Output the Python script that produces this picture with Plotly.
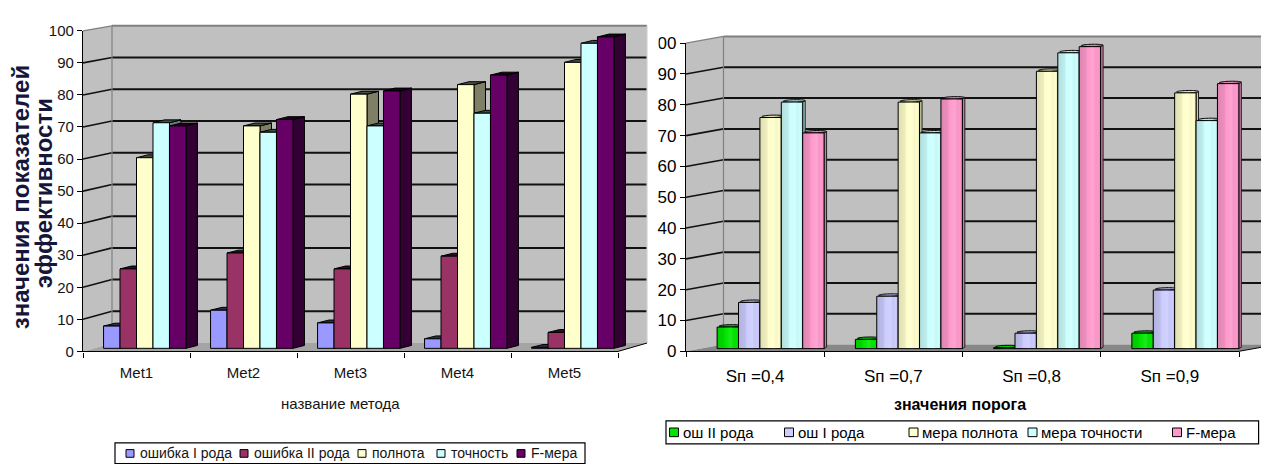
import math
import plotly.graph_objects as go

W, H = 1261, 474

# ---------------- data ----------------
methods = ["Met1", "Met2", "Met3", "Met4", "Met5"]
left_series_names = ["ошибка I рода", "ошибка II рода", "полнота", "точность", "F-мера"]
left_error_1 = [7, 12, 8, 3, 0.3]
left_error_2 = [25, 30, 25, 29, 5]
left_recall = [60, 70, 80, 83, 90]
left_precision = [71, 68, 70, 74, 96]
left_f_measure = [70, 72, 81, 86, 98]

thresholds = ["Sп =0,4", "Sп =0,7", "Sп =0,8", "Sп =0,9"]
right_series_names = ["ош II рода", "ош I рода", "мера полнота", "мера точности", "F-мера"]
right_error_2 = [7, 3, 0.3, 5]
right_error_1 = [15, 17, 5, 19]
right_recall = [75, 80, 90, 83]
right_precision = [80, 70, 96, 74]
right_f_measure = [70, 81, 98, 86]

value_ticks = [0, 10, 20, 30, 40, 50, 60, 70, 80, 90, 100]

# ---------------- styles ----------------
left_colors = ["#9999FF", "#993366", "#FFFFCC", "#CCFFFF", "#660066"]
right_colors = ["#00E600", "#CCCCFF", "#FFFFCC", "#CCFFFF", "#FF99CC"]

ARIAL = "Liberation Sans, Arial, sans-serif"
WALL = "#C0C0C0"
GRID = "#111111"
EDGE = "#808080"

CYL_SHADE = [
    [0.0, "rgba(0,0,0,0.13)"],
    [0.33, "rgba(0,0,0,0.07)"],
    [0.42, "rgba(255,255,255,0.0)"],
    [0.65, "rgba(255,255,255,0.12)"],
    [0.88, "rgba(0,0,0,0.0)"],
    [1.0, "rgba(0,0,0,0.10)"],
]


def shade(hex_color, k):
    h = hex_color.lstrip("#")
    r, g, b = (int(h[i:i + 2], 16) for i in (0, 2, 4))
    return "#%02X%02X%02X" % (int(r * k), int(g * k), int(b * k))


def pxx(x):
    return x / W


def pyy(y):
    return 1 - y / H


def paper_path(points):
    return "M " + " L ".join(f"{pxx(x):.5f},{pyy(y):.5f}" for x, y in points) + " Z"


def data_path(points, close=True):
    s = "M " + " L ".join(f"{x:.5f},{y:.5f}" for x, y in points)
    return s + (" Z" if close else "")


panels = [
    dict(
        cats=methods,
        names=left_series_names,
        series=[left_error_1, left_error_2, left_recall, left_precision, left_f_measure],
        colors=left_colors,
        bar_axes=("x", "y"),
        front_axes=("x2", "y2"),
        front=dict(x0=83, x1=618, y0=356.7, y100=22.7),
        back=dict(x0=112, x1=647, y0=348.0, y100=17.5),
        bars=dict(c0=144.75, step=107.0, y0=353.5, unit=3.31, frac=0.77),
        depth=(11.5, 3.0),
        cylinders=False,
        box=(78, 652, 6, 362),
        floor="#A4A4A4",
        tickfont=dict(family=ARIAL, size=15, color="#141414"),
        catfont=dict(family=ARIAL, size=15, color="#141414"),
        standoff=7,
    ),
    dict(
        cats=thresholds,
        names=right_series_names,
        series=[right_error_2, right_error_1, right_recall, right_precision, right_f_measure],
        colors=right_colors,
        bar_axes=("x3", "y3"),
        front_axes=("x4", "y4"),
        front=dict(x0=686, x1=1239, y0=356.6, y100=35.6),
        back=dict(x0=723.5, x1=1276.5, y0=349.6, y100=28.6),
        bars=dict(c0=770.6, step=138.25, y0=353.8, unit=3.21, frac=0.774),
        depth=(4.5, 2.5),
        cylinders=True,
        box=(682, 1261, 20, 362),
        floor="#878787",
        tickfont=dict(family=ARIAL, size=17, color="black"),
        catfont=dict(family=ARIAL, size=17, color="black"),
        standoff=9,
    ),
]

shapes, annotations, traces = [], [], []
layout_axes = {}


def axis_key(ref):
    return ("xaxis" if ref[0] == "x" else "yaxis") + ref[1:]


for p in panels:
    f, b, bp = p["front"], p["back"], p["bars"]

    def fy(v, f=f):
        return f["y0"] + (f["y100"] - f["y0"]) * v / 100

    def by(v, b=b):
        return b["y0"] + (b["y100"] - b["y0"]) * v / 100

    # walls and floor
    shapes.append(dict(type="path", xref="paper", yref="paper", layer="below",
                       path=paper_path([(f["x0"], fy(0)), (f["x0"], fy(100)),
                                        (b["x0"], by(100)), (b["x0"], by(0))]),
                       fillcolor=WALL, line=dict(width=0)))
    shapes.append(dict(type="path", xref="paper", yref="paper", layer="below",
                       path=paper_path([(b["x0"], by(0)), (b["x0"], by(100)),
                                        (b["x1"], by(100)), (b["x1"], by(0))]),
                       fillcolor=WALL, line=dict(width=0)))
    shapes.append(dict(type="path", xref="paper", yref="paper", layer="below",
                       path=paper_path([(f["x0"], fy(0)), (f["x1"], fy(0)),
                                        (b["x1"], by(0)), (b["x0"], by(0))]),
                       fillcolor=p["floor"], line=dict(width=0)))

    # grid lines on the back wall and the side wall
    for v in value_ticks[1:-1]:
        shapes.append(dict(type="line", xref="paper", yref="paper", layer="below",
                           x0=pxx(b["x0"]), y0=pyy(by(v)), x1=pxx(b["x1"]), y1=pyy(by(v)),
                           line=dict(color=GRID, width=2)))
        shapes.append(dict(type="line", xref="paper", yref="paper", layer="below",
                           x0=pxx(f["x0"]), y0=pyy(fy(v)), x1=pxx(b["x0"]), y1=pyy(by(v)),
                           line=dict(color=GRID, width=1.6)))

    # wall edges
    for (x0, y0, x1, y1, col, wd) in [
        (f["x0"], fy(100), b["x0"], by(100), EDGE, 1.2),
        (b["x0"], by(100), b["x1"], by(100), EDGE, 2.0),
        (b["x0"], by(100), b["x0"], by(0), EDGE, 1.2),
        (b["x1"], by(100), b["x1"], by(0), "#D0D0D0", 1.2),
        (f["x1"], fy(0), b["x1"], by(0), "black", 1.0),
    ]:
        shapes.append(dict(type="line", xref="paper", yref="paper", layer="below",
                           x0=pxx(x0), y0=pyy(y0), x1=pxx(x1), y1=pyy(y1),
                           line=dict(color=col, width=wd)))

    # axes of the bar plane (hidden, used for placing the columns)
    xa, ya = p["bar_axes"]
    x_lo, x_hi, y_top, y_bot = p["box"]
    layout_axes[axis_key(xa)] = dict(
        domain=[pxx(x_lo), pxx(x_hi)],
        range=[(x_lo - bp["c0"]) / bp["step"], (x_hi - bp["c0"]) / bp["step"]],
        anchor=ya, visible=False, fixedrange=True)
    layout_axes[axis_key(ya)] = dict(
        domain=[pyy(y_bot), pyy(y_top)],
        range=[(bp["y0"] - y_bot) / bp["unit"], (bp["y0"] - y_top) / bp["unit"]],
        anchor=xa, visible=False, fixedrange=True)

    # front axes carrying ticks and labels
    fxa, fya = p["front_axes"]
    n = len(p["cats"])
    layout_axes[axis_key(fxa)] = dict(
        domain=[pxx(f["x0"]), pxx(f["x1"])], range=[-0.5, n - 0.5], anchor=fya,
        tickmode="array", tickvals=list(range(n)), ticktext=p["cats"], ticks="",
        ticklabelstandoff=p["standoff"],
        minor=dict(tickmode="array", tickvals=[i - 0.5 for i in range(n + 1)],
                   ticks="outside", ticklen=5, tickcolor="black", showgrid=False),
        showline=True, linecolor="black", linewidth=1.3, showgrid=False, zeroline=False,
        tickfont=p["catfont"], fixedrange=True)
    layout_axes[axis_key(fya)] = dict(
        domain=[pyy(f["y0"]), pyy(f["y100"])], range=[0, 100], anchor=fxa,
        tickmode="array", tickvals=value_ticks, ticks="outside", ticklen=5,
        tickcolor="black", showline=True, linecolor="black", linewidth=1.2,
        showgrid=False, zeroline=False, tickfont=p["tickfont"], fixedrange=True)
    # an empty trace so the front subplot is created and its axes drawn
    traces.append(go.Scatter(x=[], y=[], xaxis=fxa, yaxis=fya, showlegend=False,
                             hoverinfo="skip"))

    # columns
    m = len(p["series"])
    bw = bp["frac"] / m
    ddx = p["depth"][0] / bp["step"]
    ddy = p["depth"][1] / bp["unit"]
    for k, (name, vals, color) in enumerate(zip(p["names"], p["series"], p["colors"])):
        traces.append(go.Bar(
            x=list(range(n)), y=vals, width=bw, offset=-bp["frac"] / 2 + k * bw,
            name=name, customdata=p["cats"],
            hovertemplate="%{customdata}<br>" + name + ": %{y}<extra></extra>",
            marker=dict(color=color, line=dict(color="black", width=1)),
            xaxis=xa, yaxis=ya, showlegend=False))

    # side and top faces, left to right so nearer faces overlap farther ones
    for j in range(n):
        for k, (vals, color) in enumerate(zip(p["series"], p["colors"])):
            L = j - bp["frac"] / 2 + k * bw
            R = L + bw
            h = vals[j]
            if not p["cylinders"]:
                shapes.append(dict(type="path", xref=xa, yref=ya, layer="below",
                                   path=data_path([(R, 0), (R + ddx, ddy), (R + ddx, h + ddy), (R, h)]),
                                   fillcolor=shade(color, 0.5), line=dict(color="black", width=1)))
                shapes.append(dict(type="path", xref=xa, yref=ya, layer="below",
                                   path=data_path([(L, h), (R, h), (R + ddx, h + ddy), (L + ddx, h + ddy)]),
                                   fillcolor=shade(color, 0.3), line=dict(color="black", width=1)))
            else:
                r = bw / 2
                c = (L + R) / 2
                ts = math.atan2(ddx / 2, r)
                xm = c + ddx / 2 + math.hypot(r, ddx / 2)
                ym = (ddy / 2) * (1 + math.sin(ts))
                shapes.append(dict(type="path", xref=xa, yref=ya, layer="below",
                                   path=data_path([(R, 0), (xm, ym), (xm, h + ym), (R, h)]),
                                   fillcolor=shade(color, 0.8), line=dict(color="#202020", width=1)))
                pts = []
                for i in range(48):
                    t = 2 * math.pi * i / 48
                    pts.append((c + r * math.cos(t) + (ddx / 2) * (1 + math.sin(t)),
                                h + (ddy / 2) * (1 + math.sin(t))))
                shapes.append(dict(type="path", xref=xa, yref=ya, layer="below",
                                   path=data_path(pts), fillcolor=shade(color, 0.88),
                                   line=dict(color="black", width=1)))
        if p["cylinders"]:
            for k, vals in enumerate(p["series"]):
                L = j - bp["frac"] / 2 + k * bw
                R = L + bw
                h = vals[j]
                traces.append(go.Scatter(
                    x=[L, R, R, L, L], y=[0, 0, h, h, 0], mode="lines", line=dict(width=0),
                    fill="toself", fillgradient=dict(type="horizontal", colorscale=CYL_SHADE),
                    xaxis=xa, yaxis=ya, hoverinfo="skip", showlegend=False))

# ---------------- titles ----------------
TITLE_NAVY = "#16163A"
annotations += [
    dict(text="значения показателей", x=pxx(20), y=pyy(196), textangle=-90,
         font=dict(family=ARIAL, size=24, color=TITLE_NAVY, weight="bold")),
    dict(text="эффективности", x=pxx(43), y=pyy(192), textangle=-90,
         font=dict(family=ARIAL, size=24, color=TITLE_NAVY, weight="bold")),
    dict(text="название метода", x=pxx(340), y=pyy(411),
         font=dict(family=ARIAL, size=15, color="#141414")),
    dict(text="значения порога", x=pxx(960), y=pyy(412),
         font=dict(family=ARIAL, size=16, color="black", weight="bold")),
]
for a in annotations:
    a.update(xref="paper", yref="paper", xanchor="center", yanchor="middle", showarrow=False)

# ---------------- legends ----------------
legend_specs = [
    dict(box=(115, 452, 585, 473.5), names=left_series_names, colors=left_colors,
         xs=[126, 240, 358, 437, 517], yc=463, sq=8, gap=4,
         font=dict(family=ARIAL, size=14, color="#141414")),
    dict(box=(666, 429, 1258.6, 453), names=right_series_names, colors=right_colors,
         xs=[669.5, 784.5, 909, 1028, 1172.5], yc=441, sq=9, gap=2,
         font=dict(family=ARIAL, size=15, color="black")),
]
for lg in legend_specs:
    x0, y0, x1, y1 = lg["box"]
    shapes.append(dict(type="rect", xref="paper", yref="paper", layer="above",
                       x0=pxx(x0), y0=pyy(y1), x1=pxx(x1), y1=pyy(y0),
                       fillcolor="white", line=dict(color="black", width=1.2)))
    s = lg["sq"]
    for name, color, x in zip(lg["names"], lg["colors"], lg["xs"]):
        shapes.append(dict(type="rect", xref="paper", yref="paper", layer="above",
                           x0=pxx(x), y0=pyy(lg["yc"] + s / 2), x1=pxx(x + s), y1=pyy(lg["yc"] - s / 2),
                           fillcolor=color, line=dict(color="black", width=1)))
        annotations.append(dict(text=name, x=pxx(x + s + lg["gap"]), y=pyy(lg["yc"]),
                                xref="paper", yref="paper", xanchor="left", yanchor="middle",
                                showarrow=False, font=lg["font"]))

# the leading digit of the right panel's top label sits under the left panel's edge
shapes.append(dict(type="rect", xref="paper", yref="paper", layer="above",
                   x0=pxx(648), y0=pyy(46), x1=pxx(658.5), y1=pyy(25),
                   fillcolor="white", line=dict(width=0)))

fig = go.Figure(data=traces)
fig.update_layout(
    width=W, height=H, autosize=False,
    margin=dict(l=0, r=0, t=0, b=0, pad=0),
    paper_bgcolor="white", plot_bgcolor="rgba(0,0,0,0)",
    barmode="overlay", showlegend=False,
    shapes=shapes, annotations=annotations,
    **layout_axes,
)
fig.write_html("out.html")
